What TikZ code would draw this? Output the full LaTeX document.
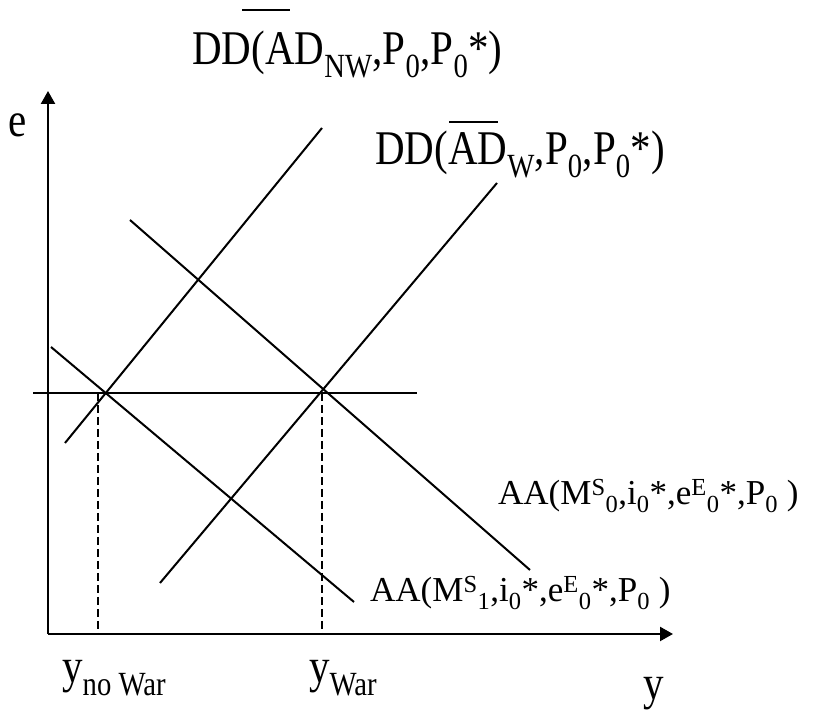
\documentclass[tikz,border=0pt]{standalone}
\usepackage{fontspec}
\setmainfont{Liberation Serif}
\usepackage{graphicx}
\usetikzlibrary{arrows.meta}
\newcommand{\tall}[1]{\scalebox{1}[1.18]{#1}}

\begin{document}
\begin{tikzpicture}[x=1pt,y=1pt,>={Triangle[length=13pt,width=14pt]},
  axis/.style={line width=2.3pt},
  curve/.style={line width=2pt},
  guide/.style={line width=1.8pt,dash pattern=on 8pt off 4pt},
  bar/.style={line width=1.8pt},
  big/.style={font=\fontsize{41}{41}\selectfont,inner sep=0pt,anchor=base west},
  lab/.style={font=\fontsize{35}{35}\selectfont,inner sep=0pt,anchor=base west}]
\useasboundingbox (0,0) rectangle (823,711);

% ---------- axes ----------
\coordinate (o) at (48,77);
\coordinate (etop) at (48,620);
\coordinate (yend) at (673,77);
\draw[axis,->] (o)--(etop);
\draw[axis,->] (o)--(yend);
\node[big] (elab) at (8,574) {\tall{e}};
\node[big] (ylab) at (643,11) {\tall{y}};

% ---------- fixed exchange rate line ----------
\coordinate (hl) at (33,318);
\coordinate (hr) at (417,318);
\draw[curve] (hl)--(hr);

% ---------- DD curves ----------
\coordinate (nwlo) at (65,268);
\coordinate (nwhi) at (322,583);
\coordinate (wlo) at (160,128);
\coordinate (whi) at (497,528);
\draw[curve] (nwlo)--(nwhi);
\draw[curve] (wlo)--(whi);
\node[big] (ddnw) at (192,646) {\tall{DD(AD\textsubscript{NW},P\textsubscript{0},P\textsubscript{0}*)}};
\node[big] (ddw) at (375,546) {\tall{DD(AD\textsubscript{W},P\textsubscript{0},P\textsubscript{0}*)}};
\draw[bar] (242,701)--(290,701);
\draw[bar] (449,589)--(498,589);

% ---------- AA curves ----------
\coordinate (a0hi) at (130,491);
\coordinate (a0lo) at (530,141);
\coordinate (a1hi) at (51,364);
\coordinate (a1lo) at (354,109);
\draw[curve] (a0hi)--(a0lo);
\draw[curve] (a1hi)--(a1lo);
\node[lab] (aa0) at (498,206) {AA(M\textsuperscript{S}\textsubscript{0},i\textsubscript{0}*,e\textsuperscript{E}\textsubscript{0}*,P\textsubscript{0} )};
\node[lab] (aa1) at (370,109) {AA(M\textsuperscript{S}\textsubscript{1},i\textsubscript{0}*,e\textsuperscript{E}\textsubscript{0}*,P\textsubscript{0} )};

% ---------- output levels ----------
\coordinate (nwtop) at (98,318);
\coordinate (nwbot) at (98,77);
\coordinate (wtop) at (322,318);
\coordinate (wbot) at (322,77);
\draw[guide] (nwtop)--(nwbot);
\draw[guide] (wtop)--(wbot);
\node[big] (ynw) at (62,28) {\tall{y\textsubscript{no War}}};
\node[big] (yw) at (309,28) {\tall{y\textsubscript{War}}};
\end{tikzpicture}
\end{document}
